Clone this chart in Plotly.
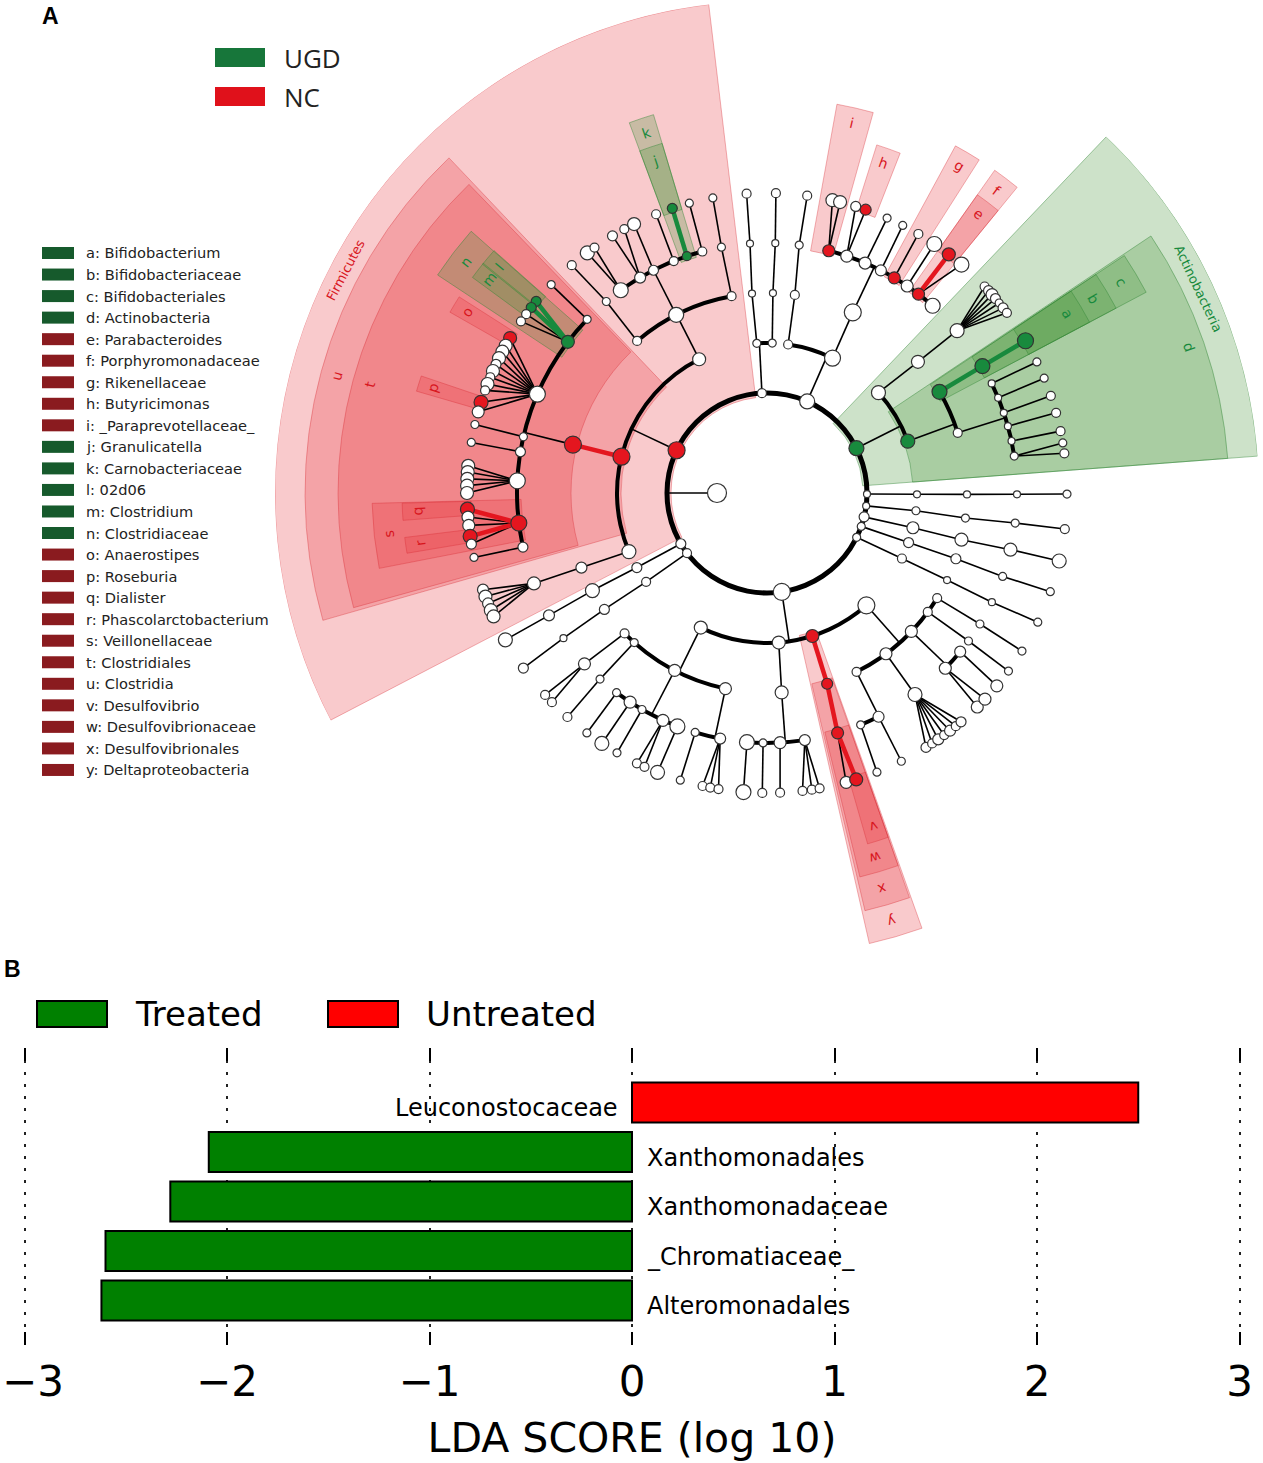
import math
import plotly.graph_objects as go

W, H = 1263, 1463

# ---------------- panel A: cladogram ----------------
# radius of each tree depth (root, phylum, class, order, family, genus)
ring_radius = [50, 100, 150, 200, 250, 300]
# outer edge of a shaded clade sector and radius of its label, by clade depth
sector_outer = {1: 492, 2: 462, 3: 429, 4: 395, 5: 365}
sector_label = {1: 477, 2: 446, 3: 412, 4: 380, 5: 350}

# nodes: (id, parent, angle in degrees, marker size, colour)  w=none r=NC g=UGD
root = [("root", None, 180, 19, "w")]

phyla = [
    ("firm", "root", 154.7, 17, "r"),
    ("p210", "root", 210.5, 10, "w"),
    ("p217", "root", 216.9, 9, "w"),
    ("prot", "root", 278.5, 17, "w"),
    ("p334", "root", -26.3, 8, "w"),
    ("p340", "root", -19.5, 8, "w"),
    ("p346", "root", -13.8, 10, "w"),
    ("p353", "root", -7.4, 7, "w"),
    ("p359", "root", -0.6, 7, "w"),
    ("actn", "root", 26.6, 15, "g"),
    ("bact", "root", 66.3, 15, "w"),
    ("p93", "root", 92.9, 9, "w"),
]

chains = [
    ("p210c", "p210", 209.8, 10, "w"), ("p210o", "p210c", 209.2, 14, "w"),
    ("p210f", "p210o", 209.3, 11, "w"), ("p210g", "p210f", 209.3, 14, "w"),
    ("p217c", "p217", 216.3, 9, "w"), ("p217o", "p217c", 215.6, 10, "w"),
    ("p217f", "p217o", 215.5, 7, "w"), ("p217g", "p217f", 215.7, 10, "w"),
    ("p334c", "p334", -25.9, 9, "w"), ("p334o", "p334c", -25.8, 7, "w"),
    ("p334f", "p334o", -25.9, 7, "w"), ("p334g", "p334f", -25.5, 8, "w"),
    ("p340c", "p340", -19.3, 10, "w"), ("p340o", "p340c", -19.2, 10, "w"),
    ("p340f", "p340o", -19.5, 8, "w"), ("p340g", "p340f", -19.2, 8, "w"),
    ("p346c", "p346", -13.4, 12, "w"), ("p346o", "p346c", -13.5, 13, "w"),
    ("p346f", "p346o", -13.1, 13, "w"), ("p346g", "p346f", -13.1, 14, "w"),
    ("p353c", "p353", -6.8, 8, "w"), ("p353o", "p353c", -7.2, 8, "w"),
    ("p353f", "p353o", -6.9, 8, "w"), ("p353g", "p353f", -6.9, 9, "w"),
    ("p359c", "p359", -0.5, 7, "w"), ("p359o", "p359c", -0.4, 7, "w"),
    ("p359f", "p359o", -0.3, 7, "w"), ("p359g", "p359f", -0.2, 8, "w"),
    ("p93c1", "p93", 93.9, 8, "w"), ("p93o1", "p93c1", 94.3, 7, "w"),
    ("p93f1", "p93o1", 93.9, 7, "w"), ("p93g1", "p93f1", 93.9, 9, "w"),
    ("p93c2", "p93", 88.0, 8, "w"), ("p93o2", "p93c2", 88.3, 7, "w"),
    ("p93f2", "p93o2", 88.1, 7, "w"), ("p93g2", "p93f2", 88.3, 9, "w"),
]

firmicutes = [
    ("bacilli", "firm", 116.9, 13, "w"),
    ("u", "firm", 166.0, 17, "r"),
    ("erys", "firm", 203.0, 14, "w"),
    ("bac_o1", "bacilli", 130.5, 9, "w"),
    ("lacto", "bacilli", 117.0, 15, "w"),
    ("bac_o3", "bacilli", 100.2, 9, "w"),
    ("t", "u", 166.0, 17, "r"),
    ("ery_o", "erys", 201.9, 11, "w"),
    ("bac_f1", "bac_o1", 130.0, 8, "w"),
    ("lac_f1", "lacto", 125.8, 15, "w"),
    ("lac_f2", "lacto", 120.5, 11, "w"),
    ("lac_f3", "lacto", 117.0, 10, "w"),
    ("lac_f4", "lacto", 111.9, 9, "w"),
    ("k", "lacto", 108.7, 9, "g"),
    ("lac_f6", "lacto", 105.0, 9, "w"),
    ("bac_f3", "bac_o3", 100.5, 8, "w"),
    ("t_f0", "t", 136.0, 8, "w"),
    ("n", "t", 142.8, 13, "g"),
    ("lach", "t", 156.7, 16, "w"),
    ("t_f3", "t", 167.0, 8, "w"),
    ("t_f4", "t", 170.5, 10, "w"),
    ("t_f5", "t", 177.2, 16, "w"),
    ("s", "t", 186.9, 16, "r"),
    ("t_f7", "t", 192.5, 10, "w"),
    ("ery_f", "ery_o", 201.2, 13, "w"),
    ("bac_g1", "bac_f1", 130.6, 9, "w"),
    ("lac_g1", "lac_f1", 126.8, 14, "w"),
    ("lac_g2", "lac_f1", 125.1, 9, "w"),
    ("lac_g3", "lac_f2", 121.0, 10, "w"),
    ("lac_g4", "lac_f2", 118.4, 9, "w"),
    ("lac_g5", "lac_f3", 116.3, 13, "w"),
    ("lac_g6", "lac_f4", 111.7, 9, "w"),
    ("j", "k", 108.4, 10, "g"),
    ("lac_g8", "lac_f6", 105.0, 8, "w"),
    ("bac_g3", "bac_f3", 100.4, 8, "w"),
    ("t_g0", "t_f0", 136.0, 8, "w"),
    ("l", "n", 140.3, 10, "g"),
    ("m", "n", 141.8, 10, "g"),
    ("n_g3", "n", 143.4, 9, "w"),
    ("n_g4", "n", 145.1, 9, "w"),
    ("o", "lach", 148.9, 13, "r"),
    ("lach_g2", "lach", 150.6, 13, "w"),
    ("lach_g3", "lach", 151.9, 13, "w"),
    ("lach_g4", "lach", 153.3, 13, "w"),
    ("lach_g5", "lach", 154.6, 10, "w"),
    ("lach_g6", "lach", 156.0, 13, "w"),
    ("lach_g7", "lach", 157.3, 9, "w"),
    ("lach_g8", "lach", 158.7, 13, "w"),
    ("lach_g9", "lach", 160.0, 9, "w"),
    ("p", "lach", 162.4, 14, "r"),
    ("lach_g11", "lach", 164.3, 12, "w"),
    ("t_g3", "t_f3", 166.8, 8, "w"),
    ("t_g4", "t_f4", 170.3, 8, "w"),
    ("t_g5", "t_f5", 174.8, 13, "w"),
    ("t_g6", "t_f5", 176.0, 13, "w"),
    ("t_g7", "t_f5", 177.3, 13, "w"),
    ("t_g8", "t_f5", 178.6, 13, "w"),
    ("t_g9", "t_f5", 180.0, 13, "w"),
    ("q", "s", 183.1, 14, "r"),
    ("s_g2", "s", 184.6, 12, "w"),
    ("s_g3", "s", 186.2, 12, "w"),
    ("r", "s", 188.3, 14, "r"),
    ("s_g5", "s", 189.8, 10, "w"),
    ("t_g10", "t_f7", 192.4, 8, "w"),
    ("ery_g1", "ery_f", 198.8, 11, "w"),
    ("ery_g2", "ery_f", 200.2, 13, "w"),
    ("ery_g3", "ery_f", 201.6, 11, "w"),
    ("ery_g4", "ery_f", 203.0, 13, "w"),
    ("ery_g5", "ery_f", 204.3, 13, "w"),
]

actinobacteria = [
    ("d", "actn", 20.2, 14, "g"),
    ("act_c2", "actn", 42.0, 14, "w"),
    ("c", "d", 30.4, 15, "g"),
    ("act_o2", "d", 17.5, 9, "w"),
    ("act_o3", "act_c2", 41.0, 13, "w"),
    ("b", "c", 30.5, 15, "g"),
    ("act_f1", "act_o2", 26.0, 7, "w"),
    ("act_f2", "act_o2", 22.4, 7, "w"),
    ("act_f3", "act_o2", 18.7, 7, "w"),
    ("act_f4", "act_o2", 15.5, 7, "w"),
    ("act_f5", "act_o2", 12.0, 7, "w"),
    ("act_f6", "act_o2", 8.5, 8, "w"),
    ("act_f7", "act_o3", 40.5, 14, "w"),
    ("a", "b", 30.5, 16, "g"),
    ("act_g1", "act_f1", 25.9, 8, "w"),
    ("act_g2", "act_f2", 22.5, 8, "w"),
    ("act_g3", "act_f3", 18.9, 9, "w"),
    ("act_g4", "act_f4", 15.5, 9, "w"),
    ("act_g5", "act_f5", 11.9, 9, "w"),
    ("act_g6", "act_f6", 9.6, 8, "w"),
    ("act_g7", "act_f6", 7.6, 9, "w"),
    ("act_g8", "act_f7", 43.5, 9, "w"),
    ("act_g9", "act_f7", 42.4, 10, "w"),
    ("act_g10", "act_f7", 41.4, 12, "w"),
    ("act_g11", "act_f7", 40.4, 10, "w"),
    ("act_g12", "act_f7", 39.3, 8, "w"),
    ("act_g13", "act_f7", 38.1, 10, "w"),
    ("act_g14", "act_f7", 36.9, 9, "w"),
]

bacteroidetes = [
    ("bct_c1", "bact", 81.9, 9, "w"),
    ("bct_c2", "bact", 64.1, 16, "w"),
    ("bct_o1", "bct_c1", 82.0, 9, "w"),
    ("bct_o2", "bct_c2", 64.6, 17, "w"),
    ("bct_f1", "bct_o1", 82.6, 8, "w"),
    ("i", "bct_o2", 75.7, 12, "r"),
    ("bct_f3", "bct_o2", 71.4, 12, "w"),
    ("bct_f4", "bct_o2", 66.9, 12, "w"),
    ("bct_f5", "bct_o2", 62.9, 11, "w"),
    ("g", "bct_o2", 59.4, 12, "r"),
    ("bct_f7", "bct_o2", 55.9, 12, "w"),
    ("f", "bct_o2", 52.7, 12, "r"),
    ("bct_f9", "bct_o2", 48.5, 15, "w"),
    ("bct_g1", "bct_f1", 82.3, 9, "w"),
    ("bct_g2", "i", 77.4, 13, "w"),
    ("bct_g3", "i", 75.9, 13, "w"),
    ("bct_g4", "bct_f3", 72.8, 10, "w"),
    ("h", "bct_f3", 70.8, 11, "r"),
    ("bct_g6", "bct_f4", 66.4, 8, "w"),
    ("bct_g7", "bct_f5", 63.1, 8, "w"),
    ("bct_g8", "g", 59.7, 9, "w"),
    ("bct_g9", "bct_f7", 56.1, 15, "w"),
    ("e", "f", 52.7, 13, "r"),
    ("bct_g11", "f", 49.6, 15, "w"),
]

proteobacteria = [
    ("pr_c1", "prot", 243.8, 13, "w"),
    ("pr_c2", "prot", 274.5, 13, "w"),
    ("y", "prot", 287.6, 13, "r"),
    ("pr_c4", "prot", 311.5, 17, "w"),
    ("pr_o1", "pr_c1", 224.6, 9, "w"),
    ("pr_o2", "pr_c1", 228.4, 8, "w"),
    ("pr_o3", "pr_c1", 242.5, 12, "w"),
    ("pr_o4", "pr_c1", 258.0, 12, "w"),
    ("pr_o5", "pr_c2", 274.2, 13, "w"),
    ("x", "y", 287.5, 11, "r"),
    ("pr_o7", "pr_c4", 296.6, 9, "w"),
    ("pr_o8", "pr_c4", 306.5, 12, "w"),
    ("pr_o9", "pr_c4", 316.2, 12, "w"),
    ("pr_o10", "pr_c4", 323.5, 9, "w"),
    ("pr_o11", "pr_c4", 328.3, 9, "w"),
    ("pr_f1", "pr_o1", 223.1, 12, "w"),
    ("pr_f2", "pr_o2", 228.1, 8, "w"),
    ("pr_f3", "pr_o3", 233.0, 8, "w"),
    ("pr_f4", "pr_o3", 236.8, 12, "w"),
    ("pr_f5", "pr_o3", 240.0, 8, "w"),
    ("pr_f6", "pr_o3", 245.4, 12, "w"),
    ("pr_f7", "pr_o3", 249.0, 15, "w"),
    ("pr_f8", "pr_o4", 253.3, 8, "w"),
    ("pr_f9", "pr_o4", 259.2, 11, "w"),
    ("pr_f10", "pr_o5", 265.4, 15, "w"),
    ("pr_f11", "pr_o5", 269.1, 8, "w"),
    ("pr_f12", "pr_o5", 273.0, 12, "w"),
    ("pr_f13", "pr_o5", 278.7, 11, "w"),
    ("w", "x", 286.4, 12, "r"),
    ("pr_f15", "pr_o7", 292.0, 8, "w"),
    ("pr_f16", "pr_o7", 296.5, 11, "w"),
    ("pr_f17", "pr_o8", 306.3, 14, "w"),
    ("pr_f18", "pr_o9", 315.5, 12, "w"),
    ("pr_f19", "pr_o9", 320.6, 11, "w"),
    ("pr_f20", "pr_o10", 323.7, 8, "w"),
    ("pr_f21", "pr_o11", 328.4, 8, "w"),
    ("pr_g1", "pr_f1", 222.3, 9, "w"),
    ("pr_g2", "pr_f1", 224.2, 9, "w"),
    ("pr_g3", "pr_f2", 228.3, 9, "w"),
    ("pr_g4", "pr_f3", 233.1, 8, "w"),
    ("pr_g5", "pr_f4", 236.6, 14, "w"),
    ("pr_g6", "pr_f5", 240.0, 8, "w"),
    ("pr_g7", "pr_f6", 244.3, 9, "w"),
    ("pr_g8", "pr_f6", 245.9, 9, "w"),
    ("pr_g9", "pr_f7", 248.6, 14, "w"),
    ("pr_g10", "pr_f8", 253.2, 8, "w"),
    ("pr_g11", "pr_f9", 257.6, 9, "w"),
    ("pr_g12", "pr_f9", 259.1, 9, "w"),
    ("pr_g13", "pr_f9", 260.7, 9, "w"),
    ("pr_g14", "pr_f10", 265.5, 15, "w"),
    ("pr_g15", "pr_f11", 269.1, 9, "w"),
    ("pr_g16", "pr_f12", 272.5, 9, "w"),
    ("pr_g17", "pr_f13", 276.8, 9, "w"),
    ("pr_g18", "pr_f13", 278.6, 9, "w"),
    ("pr_g19", "pr_f13", 280.1, 9, "w"),
    ("pr_g20", "w", 285.3, 12, "w"),
    ("v", "w", 287.3, 13, "r"),
    ("pr_g22", "pr_f15", 291.5, 8, "w"),
    ("pr_g23", "pr_f16", 296.6, 8, "w"),
    ("pr_g24", "pr_f17", 302.0, 10, "w"),
    ("pr_g25", "pr_f17", 303.4, 9, "w"),
    ("pr_g26", "pr_f17", 304.8, 11, "w"),
    ("pr_g27", "pr_f17", 306.2, 9, "w"),
    ("pr_g28", "pr_f17", 307.6, 11, "w"),
    ("pr_g29", "pr_f17", 309.0, 9, "w"),
    ("pr_g30", "pr_f17", 310.3, 10, "w"),
    ("pr_g31", "pr_f18", 314.5, 12, "w"),
    ("pr_g32", "pr_f18", 316.6, 12, "w"),
    ("pr_g33", "pr_f19", 320.0, 12, "w"),
    ("pr_g34", "pr_f20", 323.6, 8, "w"),
    ("pr_g35", "pr_f21", 328.2, 8, "w"),
]

# shaded clades: node id, label, angular extent (degrees)
clade_id = ["actn", "d", "c", "b", "a", "firm", "u", "t", "n", "m", "l", "o", "p",
            "s", "q", "r", "k", "j", "i", "h", "g", "f", "e", "y", "x", "w", "v"]
clade_text = ["Actinobacteria", "d", "c", "b", "a", "Firmicutes", "u", "t", "n", "m",
              "l", "o", "p", "s", "q", "r", "k", "j", "i", "h", "g", "f", "e", "y",
              "x", "w", "v"]
clade_from = [4.3, 4.3, 27.9, 27.9, 27.9, 96.8, 133.5, 134.0, 138.5, 141.0, 138.4,
              147.5, 161.3, 181.5, 181.6, 187.0, 106.7, 106.7, 74.4, 68.6, 57.5,
              50.7, 50.7, 282.8, 283.2, 283.6, 286.0]
clade_to = [46.4, 33.8, 33.6, 33.6, 33.6, 207.5, 196.0, 195.5, 146.5, 143.8, 141.2,
            150.3, 163.8, 191.0, 184.3, 189.5, 110.4, 110.4, 79.8, 72.5, 61.5,
            54.8, 54.8, 289.6, 289.4, 289.4, 289.4]

legend_entries = ["a: Bifidobacterium", "b: Bifidobacteriaceae", "c: Bifidobacteriales",
                  "d: Actinobacteria", "e: Parabacteroides", "f: Porphyromonadaceae",
                  "g: Rikenellaceae", "h: Butyricimonas", "i: _Paraprevotellaceae_",
                  "j: Granulicatella", "k: Carnobacteriaceae", "l: 02d06",
                  "m: Clostridium", "n: Clostridiaceae", "o: Anaerostipes",
                  "p: Roseburia", "q: Dialister", "r: Phascolarctobacterium",
                  "s: Veillonellaceae", "t: Clostridiales", "u: Clostridia",
                  "v: Desulfovibrio", "w: Desulfovibrionaceae", "x: Desulfovibrionales",
                  "y: Deltaproteobacteria"]
legend_group = list("ggggrrrrrgggggrrrrrrrrrrr")

# ---------------- panel B: LDA scores ----------------
lda_taxa = ["Leuconostocaceae", "Xanthomonadales", "Xanthomonadaceae",
            "_Chromatiaceae_", "Alteromonadales"]
lda_score = [2.50, -2.09, -2.28, -2.60, -2.62]
lda_group = ["Untreated", "Treated", "Treated", "Treated", "Treated"]
lda_ticks = [-3, -2, -1, 0, 1, 2, 3]

# ---------------- build the tree ----------------
node_fill = {"w": "white", "r": "#e4161f", "g": "#188a3d"}
wedge_fill = {"r": "rgba(232,58,68,0.27)", "g": "rgba(75,150,60,0.28)"}
wedge_edge = {"r": "rgba(215,40,50,0.35)", "g": "rgba(50,135,55,0.45)"}
label_col = {"r": "#d8161e", "g": "#188a3d"}

nodes = root + phyla + chains + firmicutes + actinobacteria + bacteroidetes + proteobacteria
info = {nd[0]: nd for nd in nodes}
kids = {}
for nid, par, ang, size, col in nodes:
    if par is not None:
        kids.setdefault(par, []).append(nid)

depth = {}


def get_depth(nid):
    if nid not in depth:
        par = info[nid][1]
        depth[nid] = 0 if par is None else get_depth(par) + 1
    return depth[nid]


thin_r, thin_t = [], []
hl = {"r": ([], []), "g": ([], [])}
arc_base, arc_len, arc_theta, arc_width = [], [], [], []

for pid, ch in kids.items():
    pang, pcol = info[pid][2], info[pid][4]
    r0 = ring_radius[get_depth(pid)]
    r1 = ring_radius[get_depth(pid) + 1]
    if len(ch) == 1 or all(c not in kids for c in ch):
        # direct lines (chains and leaf fans)
        for c in ch:
            cang, ccol = info[c][2], info[c][4]
            if ccol == pcol and ccol != "w":
                rr, tt = hl[ccol]
            else:
                rr, tt = thin_r, thin_t
            rr += [r0, r1, None]
            tt += [pang, cang, None]
    else:
        thin_r += [r0, r1, None]
        thin_t += [pang, pang, None]
        angs = [info[c][2] for c in ch] + [pang]
        lo, hi = min(angs), max(angs)
        if pid == "root":
            lo, hi = 0, 360
        thick = 5 if pid == "root" else 4
        arc_base.append(r1 - thick / 2)
        arc_len.append(thick)
        arc_theta.append((lo + hi) / 2)
        arc_width.append(hi - lo)

fig = go.Figure()

# shaded sectors
wb, wl, wt, ww, wf, we = [], [], [], [], [], []
annotations = []
for cid, txt, a0, a1 in zip(clade_id, clade_text, clade_from, clade_to):
    lev = get_depth(cid)
    col = info[cid][4]
    base = ring_radius[lev] - 4
    wb.append(base)
    wl.append(sector_outer[lev] - base)
    wt.append((a0 + a1) / 2)
    ww.append(a1 - a0)
    wf.append(wedge_fill[col])
    we.append(wedge_edge[col])
    mid = (a0 + a1) / 2
    rad = sector_label[lev]
    ang = ((90 - mid + 180) % 360) - 180
    annotations.append(dict(
        x=rad * math.cos(math.radians(mid)), y=rad * math.sin(math.radians(mid)),
        xref="x2", yref="y2", text=txt, showarrow=False, textangle=ang,
        font=dict(family="DejaVu Sans", size=14 if lev > 1 else 13,
                  color=label_col[col])))

fig.add_trace(go.Barpolar(base=wb, r=wl, theta=wt, width=ww,
                          marker=dict(color=wf, line=dict(color=we, width=1)),
                          hoverinfo="skip", showlegend=False))
fig.add_trace(go.Barpolar(base=arc_base, r=arc_len, theta=arc_theta, width=arc_width,
                          marker=dict(color="black", line=dict(width=0)),
                          hoverinfo="skip", showlegend=False))
fig.add_trace(go.Scatterpolar(r=thin_r, theta=thin_t, mode="lines",
                              line=dict(color="black", width=1.6),
                              hoverinfo="skip", showlegend=False))
for col in ["r", "g"]:
    fig.add_trace(go.Scatterpolar(r=hl[col][0], theta=hl[col][1], mode="lines",
                                  line=dict(color=node_fill[col], width=4.5),
                                  hoverinfo="skip", showlegend=False))

fig.add_trace(go.Scatterpolar(
    r=[ring_radius[get_depth(nd[0])] for nd in nodes],
    theta=[nd[2] for nd in nodes],
    mode="markers",
    marker=dict(size=[nd[3] for nd in nodes], color=[node_fill[nd[4]] for nd in nodes],
                line=dict(color="#333333", width=1.2), opacity=1),
    hoverinfo="skip", showlegend=False))

# overlay axes matching the polar area, used to place rotated labels
fig.add_trace(go.Scatter(x=[None], y=[None], xaxis="x2", yaxis="y2", showlegend=False))

# ---------------- panel B bars ----------------
bar_col = {"Treated": "#008000", "Untreated": "#ff0000"}
fig.add_trace(go.Bar(x=lda_score, y=lda_taxa, orientation="h", width=0.81,
                     marker=dict(color=[bar_col[g] for g in lda_group],
                                 line=dict(color="black", width=2)),
                     hoverinfo="skip", showlegend=False, xaxis="x", yaxis="y"))
for taxon, score in zip(lda_taxa, lda_score):
    annotations.append(dict(
        x=-0.06 if score > 0 else 0.065, y=taxon, xref="x", yref="y",
        xanchor="right" if score > 0 else "left", yshift=-6,
        text=taxon, showarrow=False,
        font=dict(family="DejaVu Sans", size=24, color="black")))


def px(v):
    return v / W


def py(v):
    return 1 - v / H


shapes = []
# panel A group legend
for y0, col, txt in [(48, "#17763a", "UGD"), (87, "#e0111b", "NC")]:
    shapes.append(dict(type="rect", xref="paper", yref="paper", x0=px(215), x1=px(265),
                       y0=py(y0), y1=py(y0 + 19), fillcolor=col, line=dict(width=0)))
    annotations.append(dict(x=px(282), y=py(y0 + 10), xref="paper", yref="paper",
                            xanchor="left", yanchor="middle", text=txt, showarrow=False,
                            font=dict(family="Open Sans", size=26, color="#222222")))

# panel A letter legend
for i, (txt, grp) in enumerate(zip(legend_entries, legend_group)):
    yc = 253 + i * 21.54
    shapes.append(dict(type="rect", xref="paper", yref="paper", x0=px(42), x1=px(74),
                       y0=py(yc - 6), y1=py(yc + 6),
                       fillcolor="#165a2c" if grp == "g" else "#8a1b1f",
                       line=dict(width=0)))
    annotations.append(dict(x=px(84), y=py(yc), xref="paper", yref="paper",
                            xanchor="left", yanchor="middle", text=txt, showarrow=False,
                            font=dict(family="DejaVu Sans", size=14.6, color="#222222")))

# panel B group legend
for x0, col, txt in [(37, "#008000", "Treated"), (328, "#ff0000", "Untreated")]:
    shapes.append(dict(type="rect", xref="paper", yref="paper", x0=px(x0), x1=px(x0 + 70),
                       y0=py(1001), y1=py(1027), fillcolor=col,
                       line=dict(color="black", width=2)))
    annotations.append(dict(x=px(x0 + 96), y=py(1014), xref="paper", yref="paper",
                            xanchor="left", yanchor="middle", text=txt, showarrow=False,
                            font=dict(family="DejaVu Sans", size=34, color="black")))

# the leftmost tick label sits against the page edge: place it flush left
annotations.append(dict(x=0, y=py(1381), xref="paper", yref="paper",
                        xanchor="left", yanchor="middle", text="\u22123", showarrow=False,
                        font=dict(family="DejaVu Sans", size=42, color="black")))

# panel letters
annotations.append(dict(x=px(40), y=py(16), xref="paper", yref="paper", text="<b>A</b>",
                        showarrow=False, xanchor="left", yanchor="middle",
                        font=dict(family="Liberation Sans", size=23, color="black")))
annotations.append(dict(x=px(2), y=py(969), xref="paper", yref="paper", text="<b>B</b>",
                        showarrow=False, xanchor="left", yanchor="middle",
                        font=dict(family="Liberation Sans", size=23, color="black")))

R = 492
cx, cy = 767, 493
pol_x = [px(cx - R), px(cx + R)]
pol_y = [py(cy + R), py(cy - R)]

# x scale of panel B: 0 at 632 px, 202.5 px per unit, range padded past +-3
x_pad = 3.05
fig.update_layout(
    width=W, height=H,
    margin=dict(l=0, r=0, t=0, b=0),
    paper_bgcolor="white",
    plot_bgcolor="rgba(0,0,0,0)",
    showlegend=False,
    polar=dict(
        domain=dict(x=pol_x, y=pol_y),
        bgcolor="rgba(0,0,0,0)",
        barmode="overlay",
        radialaxis=dict(range=[0, R], visible=False, showgrid=False),
        angularaxis=dict(visible=False, showgrid=False, showline=False,
                         rotation=0, direction="counterclockwise"),
    ),
    xaxis2=dict(domain=pol_x, range=[-R, R], visible=False, anchor="y2", fixedrange=True),
    yaxis2=dict(domain=pol_y, range=[-R, R], visible=False, anchor="x2", fixedrange=True),
    xaxis=dict(
        domain=[px(632 - x_pad * 202.5), px(632 + x_pad * 202.5)],
        range=[-x_pad, x_pad], anchor="y",
        tickvals=lda_ticks,
        ticktext=["" if v == -3 else ("\u2212" + str(-v) if v < 0 else str(v))
                  for v in lda_ticks],
        ticks="inside", ticklen=13, tickwidth=2, tickcolor="black", mirror="ticks",
        showline=False, zeroline=False,
        showgrid=True, gridcolor="#222222", gridwidth=1.5, griddash="3px,9px",
        tickfont=dict(family="DejaVu Sans", size=42, color="black"),
        ticklabelstandoff=8, ticklabeloverflow="allow",
        title=dict(text="LDA SCORE (log 10)", standoff=18,
                   font=dict(family="DejaVu Sans", size=41, color="black")),
        automargin=False,
    ),
    yaxis=dict(
        domain=[py(1345), py(1048)], anchor="x", type="category",
        categoryorder="array", categoryarray=lda_taxa[::-1], range=[-0.9, 5.1],
        showticklabels=False, ticks="", showline=False, showgrid=False, zeroline=False,
        automargin=False,
    ),
    annotations=annotations,
    shapes=shapes,
)

fig.write_html("out.html", config={"displayModeBar": False},
               post_script="document.body.style.margin = '0px';")
